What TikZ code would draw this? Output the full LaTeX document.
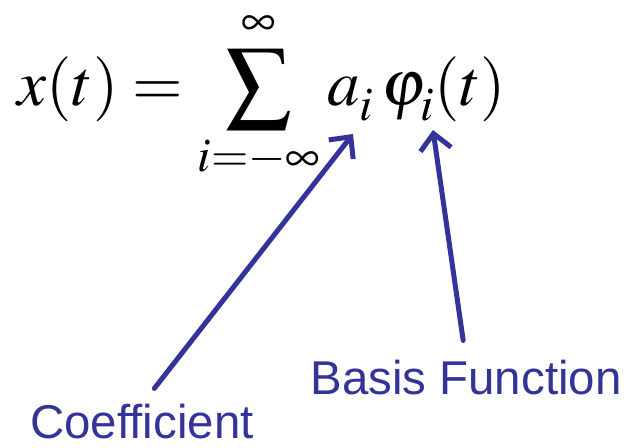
\documentclass[tikz,border=0pt]{standalone}
\usepackage{mathptmx}
\usepackage{fontspec}
\setmainfont{Liberation Serif}
\setsansfont{Liberation Sans}
\usepackage{xcolor}
\usetikzlibrary{arrows.meta}

\definecolor{labelblue}{RGB}{51,51,153}
\newcommand{\lowsub}[1]{_{\lower3pt\hbox{$\scriptstyle #1$}}}

\begin{document}
\begin{tikzpicture}[
            x=0.02cm, y=-0.02cm,
            formula/.style={inner sep=0pt, font=\fontsize{37}{42}\selectfont},
            label/.style={inner sep=0pt, font=\sffamily\fontsize{27}{30}\selectfont, text=labelblue},
            pointer/.style={-{Straight Barb[length=0.32cm, width=0.62cm]}, labelblue, line width=0.1cm, line cap=round, shorten <=0.4cm}
        ]
        \useasboundingbox (0,0) rectangle (629,447);

        % --- FORMULE ---
        \node[formula] (eq) at (262,96) {$\displaystyle x(t) = \sum_{i=-\infty}^{\infty} a\lowsub{i}\,\varphi\lowsub{i}(t)$};

        % --- CIBLES DES FLECHES ---
        \coordinate (ai) at (353,134);
        \coordinate (phii) at (433,130);

        % --- LABELS ---
        \node[label] (coef) at (142,422) {Coefficient};
        \node[label] (basis) at (466,378) {Basis Function};

        % --- FLECHES ---
        \draw[pointer] (coef.north) -- (ai);
        \draw[pointer] (basis.north) -- (phii);

    \end{tikzpicture}
\end{document}
